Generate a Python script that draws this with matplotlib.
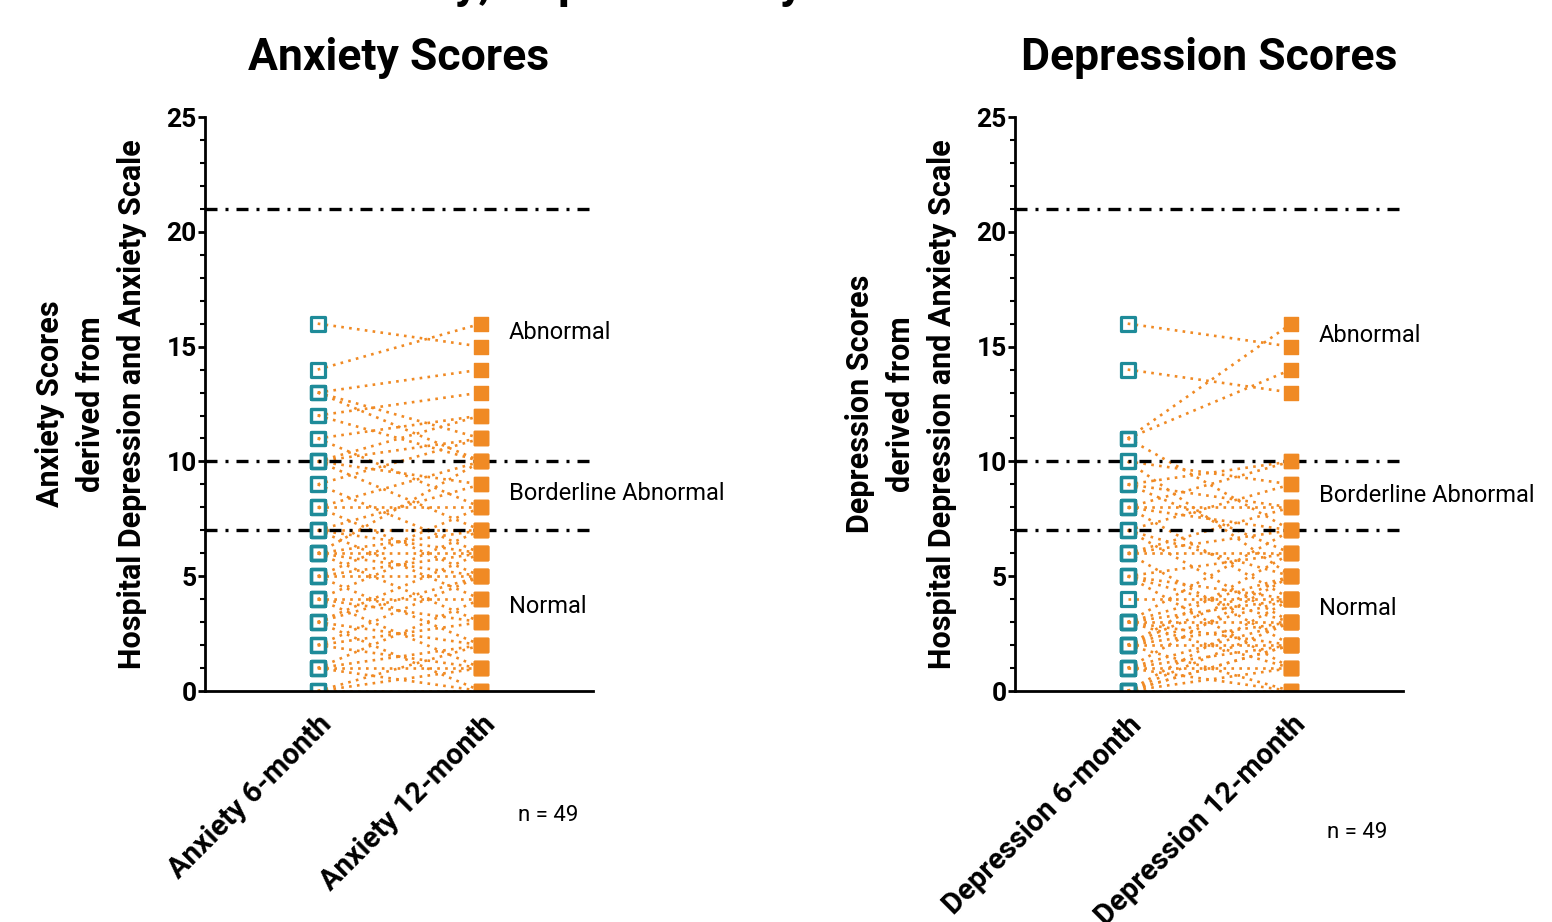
import matplotlib
matplotlib.use("Agg")
import matplotlib.pyplot as plt
from matplotlib.ticker import MultipleLocator

plt.rcParams['font.family'] = ['Roboto', 'DejaVu Sans']

# Paired HADS scores (6-month, 12-month) for each of the 49 participants
anx_6m = [16, 14, 13, 13, 13, 12, 12, 11, 11, 10, 10, 10, 10, 9, 9, 8, 8, 8,
          7, 7, 7, 7, 6, 6, 6, 6, 5, 5, 5, 4, 4, 4, 4, 3, 3, 3, 3, 2, 2, 2,
          1, 1, 1, 1, 0, 0, 0, 5, 6]
anx_12m = [15, 16, 14, 11, 10, 13, 10, 12, 8, 12, 9, 7, 11, 11, 6, 10, 8, 5,
           9, 7, 6, 4, 10, 7, 5, 3, 8, 6, 2, 7, 4, 3, 1, 6, 5, 2, 0, 5, 3, 1,
           4, 2, 1, 0, 2, 0, 1, 5, 6]

dep_6m = [16, 14, 11, 11, 11, 10, 10, 9, 9, 9, 8, 8, 8, 8, 7, 7, 7, 6, 6, 6,
          6, 5, 5, 5, 5, 4, 3, 3, 3, 3, 3, 2, 2, 2, 2, 2, 2, 1, 1, 1, 1, 1,
          0, 0, 0, 0, 0, 3, 0]
dep_12m = [15, 13, 16, 14, 7, 9, 5, 10, 8, 6, 10, 7, 8, 4, 9, 5, 3, 8, 7, 6,
           2, 6, 4, 3, 1, 4, 7, 5, 4, 2, 1, 6, 5, 4, 3, 2, 0, 5, 3, 2, 1, 0,
           4, 3, 2, 1, 0, 3, 2]

time_labels_anx = ["Anxiety 6-month", "Anxiety 12-month"]
time_labels_dep = ["Depression 6-month", "Depression 12-month"]
panel_titles = ["Anxiety Scores", "Depression Scores"]
ylabels = ["Anxiety Scores\nderived from\nHospital Depression and Anxiety Scale",
           "Depression Scores\nderived from\nHospital Depression and Anxiety Scale"]
cutoffs = [21, 10, 7]
band_labels = ["Abnormal", "Borderline Abnormal", "Normal"]
band_label_y = [[15.6, 8.6, 3.7], [15.5, 8.5, 3.6]]
n_label = "n = 49"
main_title = "Anxiety, Depression by Visit"

TEAL = "#1e8b99"
ORANGE = "#f08a24"

fig = plt.figure(figsize=(15.52, 9.22), dpi=100)
axes = [fig.add_axes([0.1321, 0.2505, 0.25, 0.6226]),
        fig.add_axes([0.6540, 0.2505, 0.25, 0.6226])]

panels = [(anx_6m, anx_12m, time_labels_anx), (dep_6m, dep_12m, time_labels_dep)]

for i, (ax, (s6, s12, tl)) in enumerate(zip(axes, panels)):
    for a, b in zip(s6, s12):
        ax.plot([0, 1], [a, b], linestyle=(0, (1, 2.0)), color=ORANGE,
                lw=1.9, zorder=2)
    ax.scatter([0] * len(s6), s6, marker='s', s=100, facecolor='none',
               edgecolor=TEAL, linewidth=2.3, zorder=4)
    ax.scatter([1] * len(s12), s12, marker='s', s=100, facecolor=ORANGE,
               edgecolor=ORANGE, linewidth=1, zorder=4)
    for c in cutoffs:
        ax.axhline(c, color='black', lw=2.4,
                   linestyle=(0, (3.6, 2.4, 0.9, 2.4)), zorder=3)

    ax.set_xlim(-0.689, 1.683)
    ax.set_ylim(0, 25)
    ax.yaxis.set_major_locator(MultipleLocator(5))
    ax.yaxis.set_minor_locator(MultipleLocator(1))
    ax.tick_params(axis='y', which='major', length=5, width=2, labelsize=19,
                   pad=1)
    ax.tick_params(axis='y', which='minor', length=3.5, width=1.5)
    for lab in ax.get_yticklabels():
        lab.set_fontweight('bold')
    ax.set_xticks([0, 1])
    ax.set_xticklabels(tl, rotation=45, ha='right', rotation_mode='anchor',
                       fontsize=21, fontweight='bold')
    ax.tick_params(axis='x', length=0, pad=14)
    for side in ('top', 'right'):
        ax.spines[side].set_visible(False)
    ax.spines['left'].set_linewidth(2)
    ax.spines['bottom'].set_linewidth(2)
    ax.spines['bottom'].set_zorder(5)

    ax.set_title(panel_titles[i], fontsize=32, fontweight='bold', pad=34)
    ax.set_ylabel(ylabels[i], fontsize=22, fontweight='bold', linespacing=1.45,
                  labelpad=14)
    for lbl, yv in zip(band_labels, band_label_y[i]):
        ax.text(1.17, yv, lbl, fontsize=17, va='center', ha='left')

fig.text(0.3338, 0.116, n_label, fontsize=16, ha='left', va='center')
fig.text(0.855, 0.0976, n_label, fontsize=16, ha='left', va='center')

# Figure heading sits at the very top edge of the canvas
fig.text(0.205, 1.0 + 2.0 / 922, main_title, fontsize=34, fontweight='bold',
         ha='left', va='baseline')

fig.savefig("out.png", dpi=100)
